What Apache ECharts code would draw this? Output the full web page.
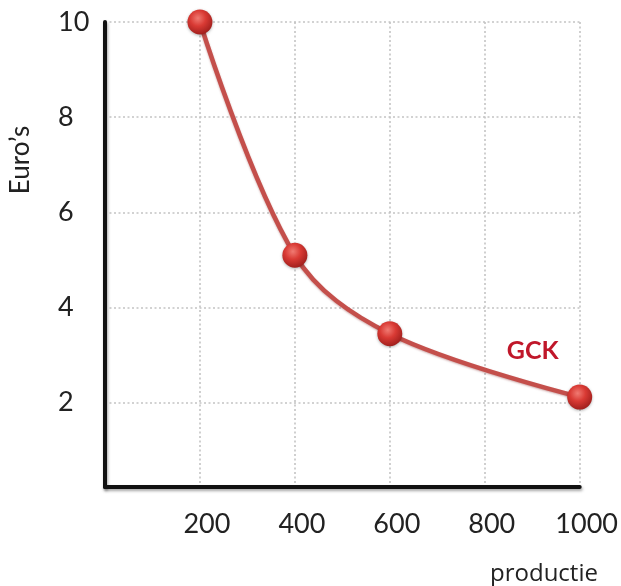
<!DOCTYPE html>
<html>
<head>
<meta charset="utf-8">
<script src="https://cdn.jsdelivr.net/npm/echarts@6/dist/echarts.min.js"></script>
<style>
html,body{margin:0;padding:0;background:#fff;}
#c{width:621px;height:586px;}
</style>
</head>
<body>
<div id="c"></div>
<script>
var xValues = [200, 400, 600, 1000];
var gckValues = [10, 5.1, 3.45, 2.12];
var seriesName = 'GCK';
var xTicks = [200, 400, 600, 800, 1000];
var yTicks = [2, 4, 6, 8, 10];
var yTitle = 'Euro\u2019s';
var xTitle = 'productie';

var chart = echarts.init(document.getElementById('c'));
var font = 'Lato, "Open Sans", sans-serif';
var data = xValues.map(function (x, i) {
  var item = { value: [x, gckValues[i]] };
  if (i === xValues.length - 1) {
    item.label = {
      show: true, formatter: seriesName, position: 'inside', offset: [-47, -46],
      color: '#c0172a', fontWeight: 'bold', fontSize: 25, fontFamily: font
    };
  }
  return item;
});
var gridLine = { show: true, lineStyle: { color: '#c4c4c4', width: 1.6, type: [2, 2.5] } };
var axisLine = { show: true, lineStyle: { color: '#111', width: 4, shadowColor: 'rgba(0,0,0,0.35)', shadowBlur: 3, shadowOffsetX: 1, shadowOffsetY: 2 } };

chart.setOption({
  animation: false,
  backgroundColor: '#ffffff',
  grid: { left: 105, right: 38, top: 22, bottom: 99, containLabel: false },
  xAxis: {
    type: 'value', min: 0, max: 1000, interval: 200,
    axisLine: axisLine, axisTick: { show: false }, splitLine: gridLine,
    axisLabel: {
      margin: 24, fontSize: 27, color: '#222', fontFamily: font, padding: [0, 0, 0, 14],
      formatter: function (v) { return xTicks.indexOf(v) >= 0 ? String(v) : ''; }
    }
  },
  yAxis: {
    type: 'value', min: 0.23, max: 10, splitNumber: 5,
    axisLine: axisLine, axisTick: { show: false }, splitLine: gridLine,
    axisLabel: {
      showMinLabel: false, align: 'left', margin: 47, fontSize: 27, color: '#222', fontFamily: font,
      formatter: function (v) { return yTicks.indexOf(v) >= 0 ? String(v) : ''; }
    }
  },
  series: [{
    name: seriesName, type: 'line', smooth: 0.35, data: data,
    symbol: 'circle', symbolSize: 25,
    lineStyle: { color: '#c44f4b', width: 4.5, shadowColor: 'rgba(120,20,20,0.35)', shadowBlur: 2, shadowOffsetY: 1 },
    itemStyle: {
      color: new echarts.graphic.RadialGradient(0.42, 0.35, 0.7, [
        { offset: 0, color: '#f07a72' },
        { offset: 0.45, color: '#d93a34' },
        { offset: 1, color: '#9a1c1a' }
      ]),
      borderWidth: 0,
      shadowColor: 'rgba(0,0,0,0.3)', shadowBlur: 3, shadowOffsetY: 1
    },
    z: 3
  }],
  graphic: [
    { type: 'text', x: 21, y: 160, rotation: Math.PI / 2,
      style: { text: yTitle, font: '26px ' + font, fill: '#222', textAlign: 'center', textVerticalAlign: 'middle' } },
    { type: 'text', x: 544, y: 574,
      style: { text: xTitle, font: '24px "Open Sans", sans-serif', fill: '#222', textAlign: 'center', textVerticalAlign: 'middle' } }
  ]
});
</script>
</body>
</html>
